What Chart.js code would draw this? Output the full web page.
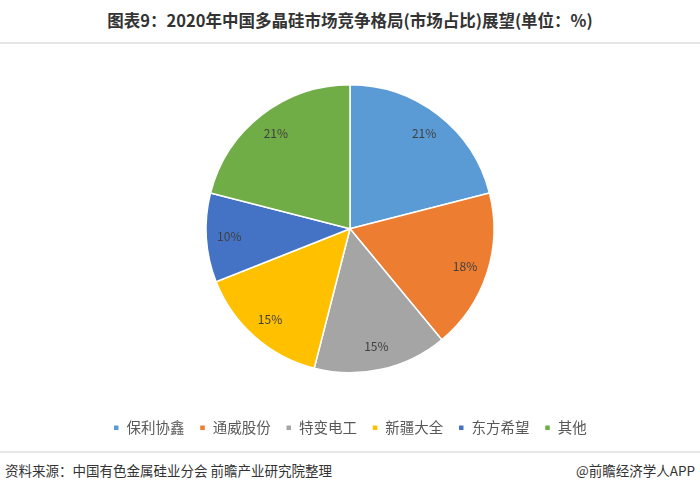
<!DOCTYPE html>
<html>
<head>
<meta charset="utf-8">
<script src="https://cdn.jsdelivr.net/npm/chart.js@4"></script>
<style>
    body { margin: 0; background: #fff; font-family: "Noto Sans CJK SC", sans-serif; }
    .wrap { position: relative; width: 700px; height: 493px; overflow: hidden; }
    .title { position: absolute; top: 8px; left: 0; width: 700px; text-align: center;
        font-size: 16.5px; font-weight: bold; color: #333; }
    .line { position: absolute; left: 0; width: 700px; height: 2px; background: #e6e6e6; }
    .chart-box { position: absolute; left: 0; top: 52px; width: 700px; height: 393px; }
    .source { position: absolute; left: 5px; top: 460px; font-size: 13.5px; color: #333; }
    .app { position: absolute; right: 5px; top: 460px; font-size: 13.5px; color: #333; }
</style>
</head>
<body>
<div class="wrap">
    <div class="title">图表9：2020年中国多晶硅市场竞争格局(市场占比)展望(单位：%)</div>
    <div class="line" style="top:42px"></div>
    <div class="chart-box"><canvas id="pieChart"></canvas></div>
    <div class="line" style="top:451px"></div>
    <div class="source">资料来源：中国有色金属硅业分会 前瞻产业研究院整理</div>
    <div class="app">@前瞻经济学人APP</div>
</div>
<script>
// 数据
const companies = ['保利协鑫', '通威股份', '特变电工', '新疆大全', '东方希望', '其他'];
const shares = [21, 18, 15, 15, 10, 21];
const sliceColors = ['#5B9BD5', '#ED7D31', '#A5A5A5', '#FFC000', '#4472C4', '#70AD47'];

// 扇区内百分比标签
const sliceLabels = {
    id: 'sliceLabels',
    afterDatasetsDraw(chart) {
        const ctx = chart.ctx;
        const meta = chart.getDatasetMeta(0);
        ctx.save();
        ctx.font = '12px "Noto Sans CJK SC", sans-serif';
        ctx.fillStyle = '#404040';
        ctx.textAlign = 'center';
        ctx.textBaseline = 'middle';
        meta.data.forEach((arc, i) => {
            const p = arc.getProps(['x', 'y', 'startAngle', 'endAngle', 'outerRadius'], true);
            const mid = (p.startAngle + p.endAngle) / 2;
            const r = p.outerRadius * 0.84;
            ctx.fillText(shares[i] + '%', p.x + Math.cos(mid) * r, p.y + Math.sin(mid) * r);
        });
        ctx.restore();
    }
};

new Chart(document.getElementById('pieChart'), {
    type: 'pie',
    data: {
        labels: companies,
        datasets: [{
            data: shares,
            backgroundColor: sliceColors,
            borderColor: '#fff',
            borderWidth: 1.5,
            radius: 144
        }]
    },
    options: {
        responsive: true,
        maintainAspectRatio: false,
        animation: false,
        plugins: {
            legend: {
                position: 'bottom',
                labels: {
                    usePointStyle: true,
                    pointStyle: 'rect',
                    boxWidth: 6,
                    boxHeight: 6,
                    padding: 15,
                    color: '#595959',
                    font: { size: 14.5, family: '"Noto Sans CJK SC", sans-serif' }
                }
            },
            tooltip: { enabled: false }
        }
    },
    plugins: [sliceLabels]
});
</script>
</body>
</html>
